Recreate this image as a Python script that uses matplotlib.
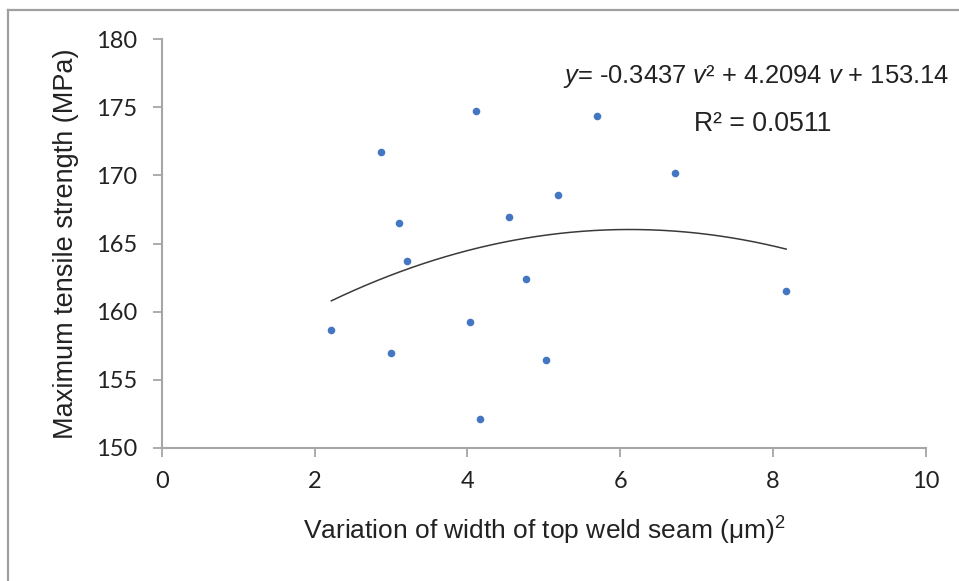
import matplotlib
matplotlib.use("Agg")
import matplotlib.pyplot as plt
import numpy as np
from matplotlib.lines import Line2D

# ---- data ----
width_variation = [2.22, 3.00, 4.03, 4.16, 4.76, 5.03, 8.17, 4.11, 2.87, 3.10, 3.21, 5.69, 6.72, 5.19, 4.54]
tensile_strength = [158.67, 156.98, 159.26, 152.13, 162.39, 156.42, 161.54, 174.74, 171.75, 166.49, 163.72, 174.37, 170.18, 168.55, 166.97]
trend_coeffs = [-0.3437, 4.2094, 153.14]   # y = a v^2 + b v + c (as printed on chart)
r_squared = 0.0511
x_ticks = [0, 2, 4, 6, 8, 10]
y_ticks = [150, 155, 160, 165, 170, 175, 180]

plt.rcParams['mathtext.fontset'] = 'custom'
plt.rcParams['mathtext.rm'] = 'Liberation Sans'
plt.rcParams['mathtext.it'] = 'Liberation Sans:italic'

W, H = 959, 581
fig = plt.figure(figsize=(W / 100, H / 100), dpi=100)
fig.patch.set_facecolor('white')

x0, x1 = 161.7, 926.0
y0, y1 = 447.7, 39.3
ax = fig.add_axes([x0 / W, 1 - y0 / H, (x1 - x0) / W, (y0 - y1) / H])

spine_col = '#a6a6a6'
for s in ['top', 'right']:
    ax.spines[s].set_visible(False)
for s in ['left', 'bottom']:
    ax.spines[s].set_color(spine_col)
    ax.spines[s].set_linewidth(1.5)

ax.set_xlim(0, 10)
ax.set_ylim(150, 180)
ax.set_xticks(x_ticks)
ax.set_yticks(y_ticks)
ax.tick_params(axis='both', direction='out', length=6.5, width=1.3, color=spine_col,
               labelsize=17, labelcolor='#222222')
ax.tick_params(axis='y', pad=11)
ax.tick_params(axis='x', pad=10)
for lab in ax.get_xticklabels() + ax.get_yticklabels():
    lab.set_fontfamily('Lato')

# trend line over data range
vmin, vmax = min(width_variation), max(width_variation)
vv = np.linspace(vmin, vmax, 200)
ax.plot(vv, np.polyval(trend_coeffs, vv), color='#3a3a3a', lw=1.1, zorder=2)

ax.scatter(width_variation, tensile_strength, s=30, color='#4477c2', zorder=3, linewidths=0)

lab_font = 'Liberation Sans'
ax.set_xlabel('Variation of width of top weld seam (μm)$^2$', fontsize=19,
              fontfamily=lab_font, color='#222222', labelpad=17)
ax.set_ylabel('Maximum tensile strength (MPa)', fontsize=19.5,
              fontfamily=lab_font, color='#222222', labelpad=12)

a, b, c = trend_coeffs
eq = r'$y$= %.4f $v$² + %.4f $v$ + %.2f' % (a, b, c)
ax.text(5.257, 176.80, eq, fontsize=18.4, fontfamily=lab_font, color='#222222',
        va='baseline', ha='left', clip_on=False)
ax.text(6.965, 173.27, 'R² = %.4f' % r_squared, fontsize=19.2, fontfamily=lab_font,
        color='#222222', va='baseline', ha='left', clip_on=False)

# outer frame lines (left and top) as in the reference image
border_col = '#a0a0a0'
fig.add_artist(Line2D([8.3 / W, 8.3 / W], [0, 1 - 9.5 / H], transform=fig.transFigure,
                      color=border_col, lw=1.6))
fig.add_artist(Line2D([8.3 / W, 1], [1 - 9.5 / H, 1 - 9.5 / H], transform=fig.transFigure,
                      color=border_col, lw=1.6))

fig.savefig('out.png', dpi=100, facecolor='white')
